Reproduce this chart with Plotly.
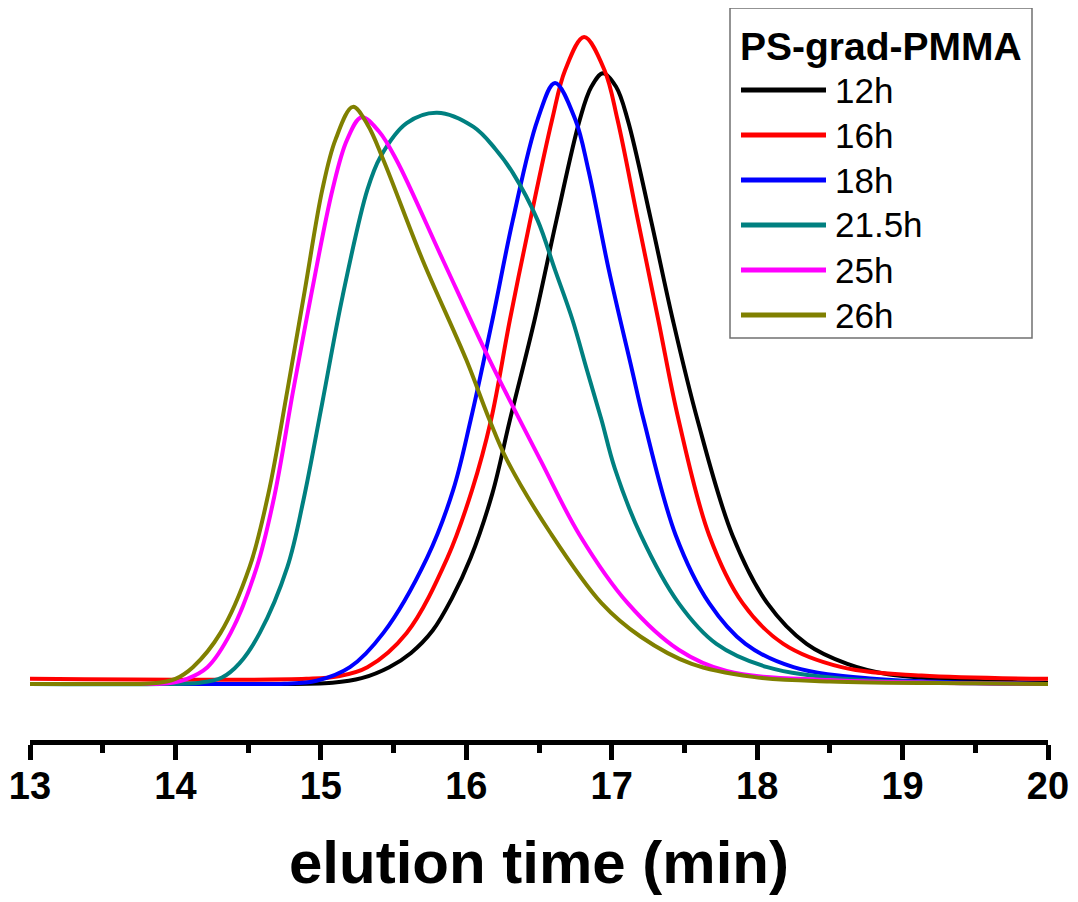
import plotly.graph_objects as go

# ---------------- data ----------------
series_names = ["12h", "16h", "18h", "21.5h", "25h", "26h"]
series_colors = ["#000000", "#ff0000", "#0000ff", "#008080", "#ff00ff", "#808000"]
legend_title = "PS-grad-PMMA"
x_title = "elution time (min)"
x_ticks = [13, 14, 15, 16, 17, 18, 19, 20]

t_12h = [13.0, 14.6, 15.08, 15.28, 15.47, 15.62, 15.77, 15.90, 16.03, 16.18, 16.30, 16.47,
         16.62, 16.78, 16.86, 16.94, 17.03, 17.11, 17.27, 17.42, 17.59, 17.83, 18.07, 18.34,
         18.62, 18.90, 19.5, 20.0]
s_12h = [0.0, 0.0, 0.2, 0.9, 2.6, 4.8, 8.3, 13.2, 19.5, 29.5, 40.8, 56.3,
         71.7, 87.2, 92.3, 94.4, 92.3, 87.2, 71.7, 56.3, 40.8, 23.0, 12.5, 6.2,
         3.1, 1.5, 0.5, 0.2]

t_16h = [13.0, 14.9, 15.12, 15.32, 15.59, 15.87, 16.04, 16.17, 16.30, 16.44, 16.59, 16.68,
         16.81, 16.95, 17.04, 17.18, 17.32, 17.46, 17.67, 17.90, 18.18, 18.58, 19.13, 20.0]
s_16h = [0.8, 0.8, 1.2, 2.6, 7.9, 19.5, 30.0, 40.8, 56.3, 71.7, 87.2, 94.9,
         100.0, 94.9, 87.2, 71.7, 56.3, 40.8, 23.0, 12.5, 6.2, 2.6, 1.3, 0.8]

t_18h = [13.0, 14.5, 14.75, 14.97, 15.20, 15.43, 15.73, 15.91, 16.03, 16.18, 16.32, 16.49,
         16.61, 16.75, 16.84, 16.98, 17.14, 17.22, 17.44, 17.67, 17.92, 18.25, 18.8, 19.5, 20.0]
s_18h = [0.0, 0.0, 0.05, 0.5, 2.6, 7.9, 19.5, 30.0, 40.8, 56.3, 71.7, 87.2,
         92.9, 87.2, 79.4, 64.0, 48.5, 40.8, 23.0, 12.5, 6.2, 2.6, 0.8, 0.2, 0.0]

t_21h = [13.0, 13.9, 14.17, 14.32, 14.44, 14.58, 14.77, 14.88, 15.01, 15.15, 15.32, 15.41,
         15.59, 15.80, 16.05, 16.20, 16.32, 16.49, 16.61, 16.73, 16.83, 16.93, 17.02, 17.20,
         17.46, 17.72, 18.07, 18.6, 19.3, 20.0]
s_21h = [0.0, 0.0, 0.2, 1.0, 3.2, 7.9, 18.1, 28.4, 43.5, 60.0, 76.4, 81.5,
         86.7, 88.3, 86.1, 82.7, 79.0, 71.7, 64.0, 56.3, 48.5, 40.8, 33.4, 23.0,
         12.5, 6.2, 2.6, 0.8, 0.2, 0.0]

t_25h = [13.0, 13.7, 13.95, 14.08, 14.22, 14.38, 14.56, 14.68, 14.81, 14.94, 15.08, 15.18,
         15.28, 15.40, 15.52, 15.84, 16.16, 16.51, 16.78, 17.11, 17.46, 17.79, 18.5, 19.5, 20.0]
s_25h = [0.0, 0.0, 0.1, 0.8, 2.6, 7.9, 18.1, 29.0, 45.4, 60.9, 76.4, 84.1,
         87.6, 85.4, 81.0, 65.5, 50.1, 34.6, 23.0, 12.5, 5.3, 2.0, 0.6, 0.1, 0.0]

t_26h = [13.0, 13.6, 13.85, 14.0, 14.12, 14.31, 14.51, 14.64, 14.77, 14.89, 15.01, 15.10,
         15.22, 15.32, 15.43, 15.70, 16.00, 16.16, 16.28, 16.58, 16.93, 17.20, 17.55, 17.97,
         18.5, 19.5, 20.0]
s_26h = [0.0, 0.0, 0.1, 0.8, 2.6, 7.9, 18.1, 29.5, 45.4, 60.9, 76.4, 84.1,
         89.2, 86.5, 81.0, 65.5, 50.1, 40.8, 34.6, 23.3, 12.5, 7.3, 3.1, 1.1,
         0.4, 0.1, 0.0]

series_t = [t_12h, t_16h, t_18h, t_21h, t_25h, t_26h]
series_s = [s_12h, s_16h, s_18h, s_21h, s_25h, s_26h]

# ---------------- layout geometry ----------------
# page body has an 8px margin, so the figure is drawn 8px in from the window edge
OFF = 8
W, H = 1078 - OFF, 902 - OFF
ML, MR, MT, MB = 30 - OFF, 30, 10 - OFF, 162
PW, PH = W - ML - MR, H - MT - MB
Y_PER_PX = 6.47            # intensity units per pixel step
BASE_PY = 684              # page row of the zero line


def px_x(px):
    return (px - OFF - ML) / PW


def px_y(py):
    return (H - MB - (py - OFF)) / PH


FONT = "Liberation Sans, Arial, sans-serif"

fig = go.Figure()
for name, color, t, s in zip(series_names, series_colors, series_t, series_s):
    fig.add_trace(go.Scatter(
        x=t, y=s, mode="lines", name=name,
        line=dict(color=color, width=4, shape="spline", smoothing=1.0),
        showlegend=False,
    ))

# legend drawn as a framed box with long line samples
shapes = [dict(type="rect", xref="paper", yref="paper",
               x0=px_x(730), x1=px_x(1032), y0=px_y(338), y1=px_y(8),
               line=dict(color="#707070", width=1.5), fillcolor="white", layer="below")]
annotations = [dict(xref="paper", yref="paper", x=px_x(881), y=px_y(46),
                    text=legend_title, showarrow=False, xanchor="center", yanchor="middle",
                    font=dict(family=FONT, size=39, color="black", weight="bold"))]
for i, (name, color) in enumerate(zip(series_names, series_colors)):
    yy = px_y(90 + 45 * i)
    shapes.append(dict(type="line", xref="paper", yref="paper",
                       x0=px_x(741), x1=px_x(826), y0=yy, y1=yy,
                       line=dict(color=color, width=5)))
    annotations.append(dict(xref="paper", yref="paper", x=px_x(833), y=yy,
                            text=name, showarrow=False, xanchor="left", yanchor="middle",
                            font=dict(family=FONT, size=35, color="black")))

fig.update_layout(
    width=W, height=H,
    margin=dict(l=ML, r=MR, t=MT, b=MB),
    paper_bgcolor="white", plot_bgcolor="white",
    showlegend=False,
    shapes=shapes, annotations=annotations,
    xaxis=dict(
        range=[13, 20], tickvals=x_ticks, ticktext=[str(v) for v in x_ticks],
        showline=True, linecolor="black", linewidth=5,
        ticks="outside", ticklen=15, tickwidth=5, tickcolor="black",
        minor=dict(dtick=0.5, ticks="outside", ticklen=8, tickwidth=5, tickcolor="black"),
        showgrid=False, zeroline=False,
        ticklabelstandoff=-7,
        tickfont=dict(family=FONT, size=38, color="black", weight="bold"),
        title=dict(text=x_title, standoff=37,
                   font=dict(family=FONT, size=60, color="black", weight="bold")),
    ),
    yaxis=dict(visible=False,
               range=[(BASE_PY - 740) / Y_PER_PX, (BASE_PY - 10) / Y_PER_PX],
               showgrid=False, zeroline=False),
)

fig.write_html("out.html")
